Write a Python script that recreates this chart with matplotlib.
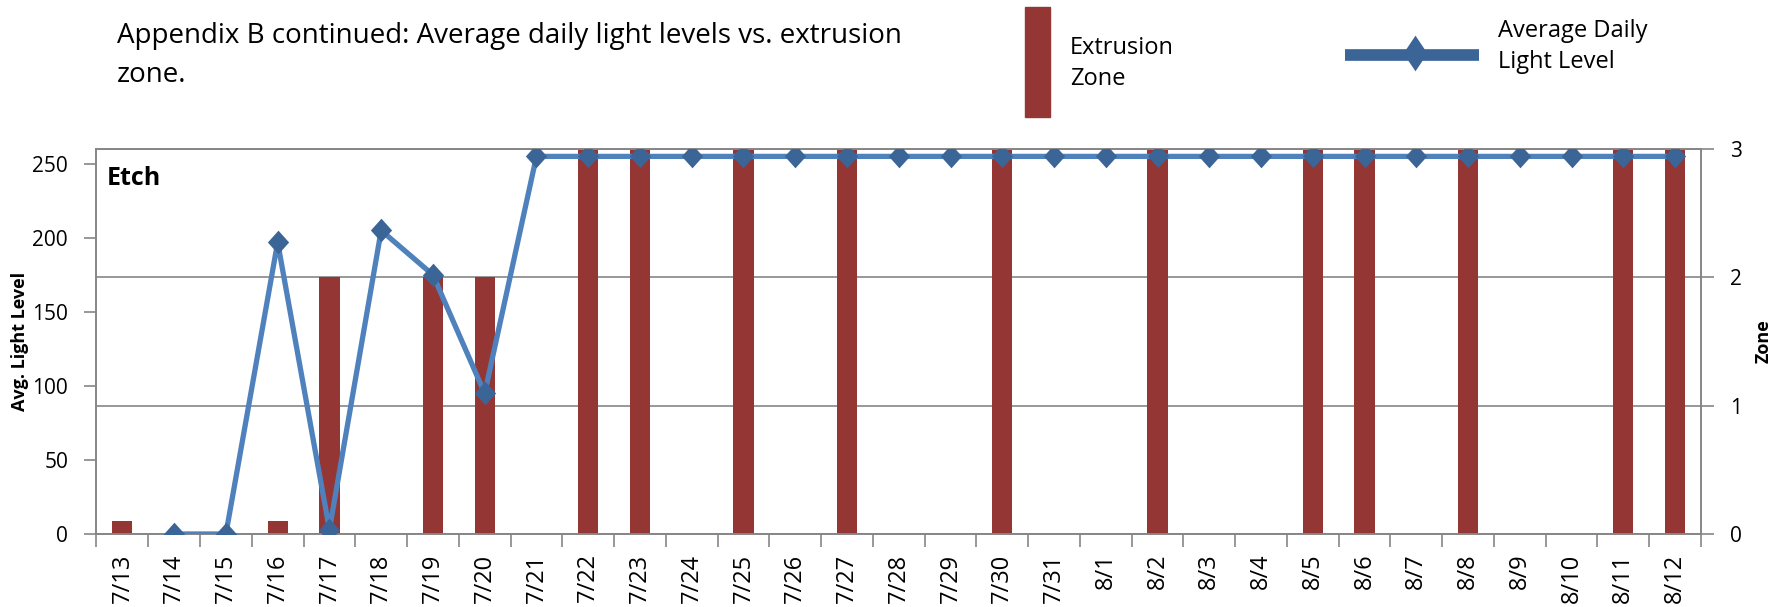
import numpy as np
import matplotlib
matplotlib.use('Agg')
import matplotlib.pyplot as plt
from matplotlib.patches import Rectangle
from matplotlib.lines import Line2D

plt.rcParams['font.family'] = ['Open Sans', 'DejaVu Sans']

# data
dates = ['7/13', '7/14', '7/15', '7/16', '7/17', '7/18', '7/19', '7/20', '7/21', '7/22',
         '7/23', '7/24', '7/25', '7/26', '7/27', '7/28', '7/29', '7/30', '7/31', '8/1',
         '8/2', '8/3', '8/4', '8/5', '8/6', '8/7', '8/8', '8/9', '8/10', '8/11', '8/12']
light = [np.nan, 0, 0, 197, 3, 205, 175, 95, 255, 255,
         255, 255, 255, 255, 255, 255, 255, 255, 255, 255,
         255, 255, 255, 255, 255, 255, 255, 255, 255, 255, 255]
zone = [0.1, 0, 0, 0.1, 2, 0, 2, 2, 0, 3,
        3, 0, 3, 0, 3, 0, 0, 3, 0, 0,
        3, 0, 0, 3, 3, 0, 3, 0, 0, 3, 3]

grey = '#868686'
bar_col = '#943634'
line_col = '#4F81BD'
mark_col = '#3A6596'
diamond = [(0, 1), (0.9, 0), (0, -1), (-0.9, 0), (0, 1)]

W, H = 1790, 607
fig = plt.figure(figsize=(W / 100, H / 100), dpi=100)
ax = fig.add_axes([96.5 / W, 1 - 534 / H, (1701 - 96.5) / W, (534 - 149) / H])

x = np.arange(len(dates))
ax.bar(x, zone, width=0.39, color=bar_col, zorder=2)

# line on a twin axis so it sits on top of the bars
ax2 = ax.twinx()
ax2.plot(x, light, color=line_col, lw=3.8, marker=diamond, ms=17,
         mfc=mark_col, mec=mark_col, mew=0, zorder=3)

# right axis: zone
ax.set_ylim(0, 3)
ax.set_yticks([0, 1, 2, 3])
ax.yaxis.tick_right()
ax.yaxis.set_label_position('right')
ax.set_ylabel('Zone', fontsize=13, fontweight='bold')
ax.yaxis.set_label_coords(1.0337, 0.5)
ax.grid(axis='y', color=grey, lw=1.2, zorder=0)
ax.set_axisbelow(True)
ax.tick_params(axis='y', length=9, color=grey, width=1.2, labelsize=15, pad=12)

# x axis
ax.set_xlim(-0.5, len(dates) - 0.5)
ax.set_xticks(x)
ax.set_xticklabels(dates, rotation=90, fontsize=17)
ax.set_xticks(np.arange(len(dates) + 1) - 0.5, minor=True)
ax.tick_params(axis='x', which='major', length=0, pad=14)
ax.tick_params(axis='x', which='minor', length=9, color=grey, width=1.2)

# left axis: light level
ax2.set_ylim(0, 260)
ax2.set_yticks([0, 50, 100, 150, 200, 250])
ax2.yaxis.tick_left()
ax2.yaxis.set_label_position('left')
ax2.set_ylabel('Avg. Light Level', fontsize=13, fontweight='bold')
ax2.yaxis.set_label_coords(-0.0418, 0.5)
ax2.tick_params(axis='y', length=8.5, color=grey, width=1.2, labelsize=15, pad=12)

for a in (ax, ax2):
    for s in a.spines.values():
        s.set_color(grey)
        s.set_linewidth(1.2)

ax.text(0.0062, 0.9065, 'Etch', transform=ax.transAxes, fontsize=18,
        fontweight='bold', va='baseline', ha='left')

# title
fig.text(117 / W, 1 - 43 / H, 'Appendix B continued: Average daily light levels vs. extrusion',
         fontsize=20, va='baseline', ha='left')
fig.text(117 / W, 1 - 82 / H, 'zone.', fontsize=20, va='baseline', ha='left')

# legend, drawn by hand
fig.add_artist(Rectangle((1025 / W, 1 - 117 / H), 25 / W, 110 / H,
                         transform=fig.transFigure, color=bar_col))
fig.text(1070 / W, 1 - 54 / H, 'Extrusion', fontsize=17, va='baseline', ha='left')
fig.text(1070 / W, 1 - 85 / H, 'Zone', fontsize=17, va='baseline', ha='left')

fig.add_artist(Line2D([1345 / W, 1479 / W], [1 - 55 / H, 1 - 55 / H],
                      transform=fig.transFigure, lw=8.4, color=mark_col,
                      solid_capstyle='butt'))
legend_diamond = [(0, 1), (0.67, 0), (0, -1), (-0.67, 0), (0, 1)]
fig.add_artist(Line2D([1415 / W], [1 - 53 / H], transform=fig.transFigure,
                      marker=legend_diamond, ms=25.7, mew=0, color=mark_col, lw=0))
fig.text(1498 / W, 1 - 37 / H, 'Average Daily', fontsize=17, va='baseline', ha='left')
fig.text(1498 / W, 1 - 68 / H, 'Light Level', fontsize=17, va='baseline', ha='left')

fig.savefig('out.png', dpi=100)
